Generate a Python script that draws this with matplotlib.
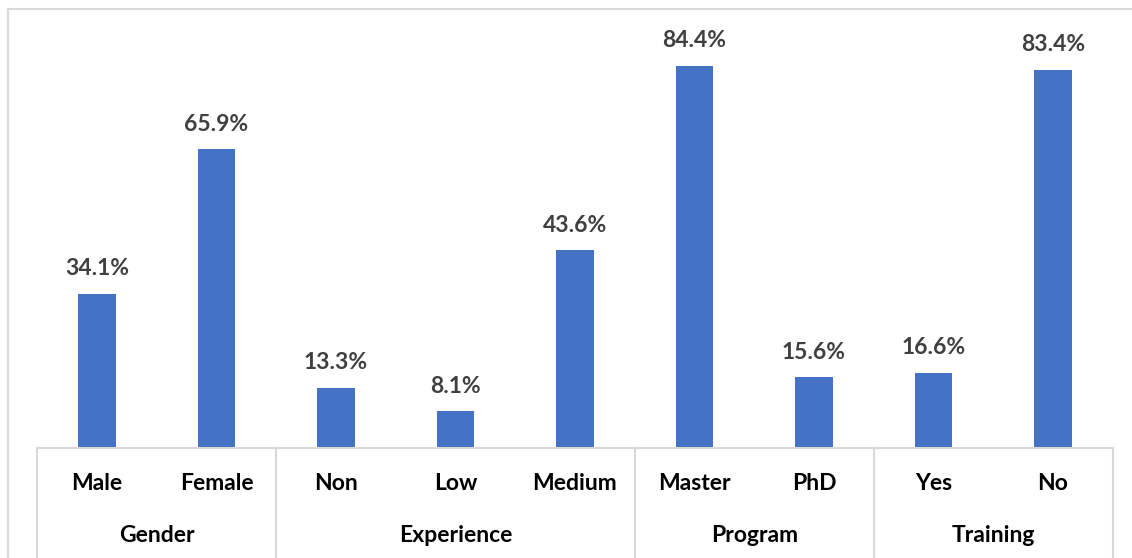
import matplotlib
matplotlib.use("Agg")
import matplotlib.pyplot as plt
from matplotlib.lines import Line2D

# Survey breakdown, percent of respondents
groups = ["Gender", "Experience", "Program", "Training"]
categories = [["Male", "Female"],
              ["Non", "Low", "Medium"],
              ["Master", "PhD"],
              ["Yes", "No"]]
values = [[34.1, 65.9],
          [13.3, 8.1, 43.6],
          [84.4, 15.6],
          [16.6, 83.4]]

plt.rcParams["font.family"] = ["Lato", "DejaVu Sans"]

W, H = 1132, 558
fig = plt.figure(figsize=(W / 100, H / 100), dpi=100)

# plot area in pixels
x0, x1 = 37.25, 1112.75
y_base = 448
ymax = 90
y_top = y_base - ymax * 4.53
ax = fig.add_axes([x0 / W, (H - y_base) / H, (x1 - x0) / W, (y_base - y_top) / H])

labels = [c for g in categories for c in g]
vals = [v for g in values for v in g]
xs = list(range(len(vals)))

fs = 16.5
ax.bar(xs, vals, width=0.313, color="#4472C4")
for x, v in zip(xs, vals):
    ax.annotate(f"{v:.1f}%", (x, v), xytext=(0, 13.5), textcoords="offset points",
                ha="center", va="baseline", fontsize=fs, fontweight="bold",
                color="#404040")

ax.set_xlim(-0.5, len(vals) - 0.5)
ax.set_ylim(0, ymax)
ax.set_yticks([])
ax.set_xticks([])
for s in ["top", "right", "left"]:
    ax.spines[s].set_visible(False)
ax.spines["bottom"].set_color("#d9d9d9")
ax.spines["bottom"].set_linewidth(1.5)

# category and group labels below the axis
def fx(i):
    return (x0 + (i + 0.5) * (x1 - x0) / len(vals)) / W

grey = "#d9d9d9"
for i, lab in enumerate(labels):
    fig.text(fx(i), 1 - 483 / H, lab, ha="center", va="center",
             fontsize=fs, fontweight="bold", color="black")

start = 0
bounds = [0]
for g, cats in zip(groups, categories):
    mid = start + (len(cats) - 1) / 2
    fig.text(fx(mid), 1 - 535 / H, g, ha="center", va="center",
             fontsize=fs, fontweight="bold", color="black")
    start += len(cats)
    bounds.append(start)

for b in bounds:
    px = x0 + b * (x1 - x0) / len(vals)
    fig.add_artist(Line2D([px / W, px / W], [0, (H - y_base) / H],
                          color=grey, lw=1.5))

# chart frame
fig.add_artist(Line2D([8 / W, 1], [1 - 9 / H, 1 - 9 / H], color=grey, lw=1.5))
fig.add_artist(Line2D([8 / W, 8 / W], [0, 1 - 9 / H], color=grey, lw=1.5))

fig.savefig("out.png", dpi=100, facecolor="white")
